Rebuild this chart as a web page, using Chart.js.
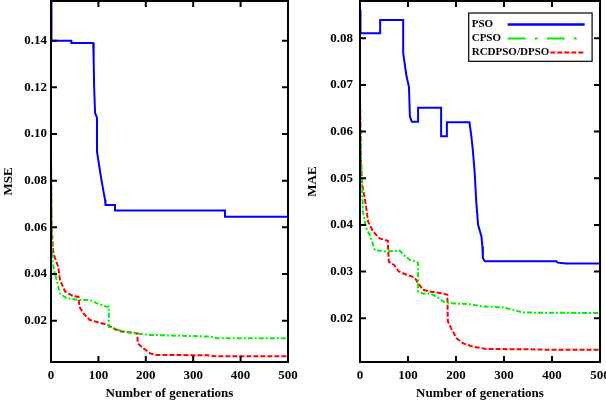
<!DOCTYPE html>
<html>
<head>
<meta charset="utf-8">
<script src="https://cdn.jsdelivr.net/npm/chart.js@4"></script>
<style>
  body { margin: 0; background: #fff; }
  #wrap { position: relative; width: 606px; height: 402px; }
  canvas { position: absolute; top: 0; }
</style>
</head>
<body>
<div id="wrap">
  <canvas id="mse" width="303" height="402" style="left:0"></canvas>
  <canvas id="mae" width="303" height="402" style="left:303px"></canvas>
</div>
<script>
const seriesNames = ["PSO", "CPSO", "RCDPSO/DPSO"];
const xTicks = [0, 100, 200, 300, 400, 500];
const mseTicks = [0.02, 0.04, 0.06, 0.08, 0.10, 0.12, 0.14];
const maeTicks = [0.02, 0.03, 0.04, 0.05, 0.06, 0.07, 0.08];

// MSE (left panel)
const psoMseGen = [0, 1, 43, 43, 89, 90, 91, 93, 97, 97, 103, 107, 114, 115, 135, 135, 367, 367, 500];
const psoMseVal = [0.157, 0.140, 0.140, 0.139, 0.139, 0.132, 0.120, 0.109, 0.107, 0.0925, 0.0846, 0.0796, 0.0718, 0.0696, 0.0696, 0.0672, 0.0672, 0.0645, 0.0645];
const cpsoMseGen = [0, 1, 3, 6, 12, 19, 33, 58, 82, 96, 117, 122, 122, 138, 164, 209, 279, 335, 350, 500];
const cpsoMseVal = [0.096, 0.060, 0.046, 0.042, 0.0374, 0.0317, 0.0296, 0.0289, 0.0289, 0.0275, 0.026, 0.026, 0.0174, 0.0163, 0.0149, 0.0139, 0.0135, 0.0132, 0.0125, 0.0125];
const rcdMseGen = [0, 1, 5, 15, 19, 30, 47, 58, 60, 68, 82, 103, 121, 131, 146, 174, 182, 183, 195, 209, 223, 330, 345, 500];
const rcdMseVal = [0.090, 0.060, 0.0489, 0.0432, 0.0374, 0.0324, 0.0305, 0.0302, 0.026, 0.0232, 0.0203, 0.0191, 0.0181, 0.0167, 0.0155, 0.0149, 0.0145, 0.0103, 0.0082, 0.006, 0.0053, 0.0052, 0.0048, 0.0048];

// MAE (right panel)
const psoMaeGen = [0, 1, 42, 42, 90, 90, 94, 97, 102, 104, 108, 121, 121, 169, 169, 181, 181, 228, 232, 235, 239, 242, 246, 253, 255, 256, 260, 409, 412, 429, 500];
const psoMaeVal = [0.0861, 0.0811, 0.0811, 0.0839, 0.0839, 0.0768, 0.0739, 0.0718, 0.0696, 0.0632, 0.0621, 0.0621, 0.0651, 0.0651, 0.059, 0.059, 0.062, 0.062, 0.059, 0.0561, 0.0511, 0.0453, 0.040, 0.0375, 0.0353, 0.0329, 0.0322, 0.0322, 0.0319, 0.0317, 0.0317];
const cpsoMaeGen = [0, 2, 3, 5, 6, 13, 20, 31, 55, 83, 90, 104, 118, 121, 121, 130, 145, 160, 173, 186, 228, 256, 298, 319, 340, 500];
const cpsoMaeVal = [0.062, 0.054, 0.0511, 0.047, 0.0429, 0.0393, 0.0379, 0.0346, 0.0343, 0.0345, 0.0336, 0.0325, 0.0321, 0.0318, 0.0257, 0.0253, 0.0253, 0.0246, 0.0236, 0.0232, 0.023, 0.0225, 0.0223, 0.0218, 0.0212, 0.0211];
const rcdMaeGen = [0, 2, 4, 10, 13, 17, 27, 41, 58, 60, 71, 81, 97, 114, 121, 131, 145, 173, 182, 183, 190, 201, 215, 235, 263, 367, 402, 500];
const rcdMaeVal = [0.068, 0.054, 0.0488, 0.0457, 0.0436, 0.0407, 0.0386, 0.0371, 0.0366, 0.0321, 0.0314, 0.030, 0.0293, 0.0287, 0.0275, 0.0261, 0.0257, 0.0253, 0.025, 0.0193, 0.0178, 0.0157, 0.0146, 0.0139, 0.0134, 0.0133, 0.0132, 0.0132];

const colors = ["#0000ff", "#00f000", "#ff0000"];
const dashes = [[], [5, 2, 2, 2], [5, 2]];
const legendDashes = [[], [18, 9, 3, 9], [5, 2]];

Chart.defaults.font.family = "'Liberation Serif', 'Times New Roman', serif";
Chart.defaults.font.weight = "bold";
Chart.defaults.font.size = 13;
Chart.defaults.color = "#000";

const pts = (g, v) => g.map((x, i) => ({ x: x, y: v[i] }));

// box round the plot with inward ticks on all four sides
const frameTicks = {
  id: "frameTicks",
  afterDatasetsDraw(chart) {
    const { ctx, chartArea: a, scales: { x, y } } = chart;
    ctx.save();
    ctx.strokeStyle = "#000";
    ctx.lineWidth = 2;
    ctx.beginPath();
    x.ticks.forEach((t) => {
      const px = x.getPixelForValue(t.value);
      ctx.moveTo(px, a.bottom); ctx.lineTo(px, a.bottom - 6);
      ctx.moveTo(px, a.top); ctx.lineTo(px, a.top + 6);
    });
    y.ticks.forEach((t) => {
      const py = y.getPixelForValue(t.value);
      ctx.moveTo(a.left, py); ctx.lineTo(a.left + 6, py);
      ctx.moveTo(a.right, py); ctx.lineTo(a.right - 6, py);
    });
    ctx.stroke();
    ctx.strokeRect(a.left, a.top, a.right - a.left, a.bottom - a.top);
    ctx.restore();
  },
};

// legend box: text on the left, line sample on the right
const boxLegend = {
  id: "boxLegend",
  afterDraw(chart, args, opts) {
    if (!opts.show) return;
    const { ctx, chartArea: a } = chart;
    const left = a.left + 108.7, top = a.top + 12, w = 123.4, h = 48.3;
    ctx.save();
    ctx.fillStyle = "#fff";
    ctx.fillRect(left, top, w, h);
    ctx.strokeStyle = "#000";
    ctx.lineWidth = 1.2;
    ctx.strokeRect(left, top, w, h);
    ctx.font = "bold 11px 'Liberation Serif', 'Times New Roman', serif";
    ctx.textBaseline = "middle";
    chart.data.datasets.forEach((ds, i) => {
      const yy = top + 11.5 + i * 14;
      ctx.fillStyle = "#000";
      ctx.fillText(ds.label, left + 3, yy);
      const tw = ctx.measureText(ds.label).width;
      const x0 = Math.max(left + 39, left + 3 + tw + 1);
      ctx.strokeStyle = ds.borderColor;
      ctx.lineWidth = i === 0 ? 2.5 : 2;
      ctx.setLineDash(legendDashes[i]);
      ctx.beginPath();
      ctx.moveTo(x0, yy);
      ctx.lineTo(left + 116, yy);
      ctx.stroke();
    });
    ctx.restore();
  },
};

function makeChart(id, yTitle, yTicks, yMin, yMax, series, yWidth, yPad, titlePad, padRight, showLegend) {
  new Chart(document.getElementById(id), {
    type: "line",
    data: {
      datasets: series.map((s, i) => ({
        label: seriesNames[i],
        data: s,
        borderColor: colors[i],
        borderWidth: 2,
        borderDash: dashes[i],
        pointRadius: 0,
        tension: 0,
        fill: false,
      })),
    },
    options: {
      responsive: false,
      devicePixelRatio: 1,
      animation: false,
      layout: { padding: { top: 1, right: padRight, left: 0, bottom: 0 } },
      plugins: {
        legend: { display: false },
        tooltip: { enabled: false },
        boxLegend: { show: showLegend },
      },
      scales: {
        x: {
          type: "linear",
          min: 0,
          max: 500,
          grid: { display: false, drawTicks: false },
          border: { display: false },
          afterBuildTicks: (s) => { s.ticks = xTicks.map((v) => ({ value: v })); },
          afterFit: (s) => { s.height = 40; s.paddingLeft = 0; s.paddingRight = 0; },
          ticks: { padding: 6, maxRotation: 0, callback: (v) => String(v) },
          title: { display: true, text: "Number of generations", padding: { top: 0, bottom: 1 } },
        },
        y: {
          min: yMin,
          max: yMax,
          grid: { display: false, drawTicks: false },
          border: { display: false },
          afterBuildTicks: (s) => { s.ticks = yTicks.map((v) => ({ value: v })); },
          afterFit: (s) => { s.width = yWidth; s.paddingTop = 0; s.paddingBottom = 0; },
          ticks: { padding: yPad, callback: (v) => v.toFixed(2) },
          title: { display: true, text: yTitle, padding: { top: titlePad, bottom: 0 } },
        },
      },
    },
    plugins: [frameTicks, boxLegend],
  });
}

makeChart("mse", "MSE", mseTicks, 0.0023, 0.157,
  [pts(psoMseGen, psoMseVal), pts(cpsoMseGen, cpsoMseVal), pts(rcdMseGen, rcdMseVal)],
  51, 4, 0.5, 15, false);

makeChart("mae", "MAE", maeTicks, 0.0106, 0.088,
  [pts(psoMaeGen, psoMaeVal), pts(cpsoMaeGen, cpsoMaeVal), pts(rcdMaeGen, rcdMaeVal)],
  57, 7, 2, 6, true);
</script>
</body>
</html>
